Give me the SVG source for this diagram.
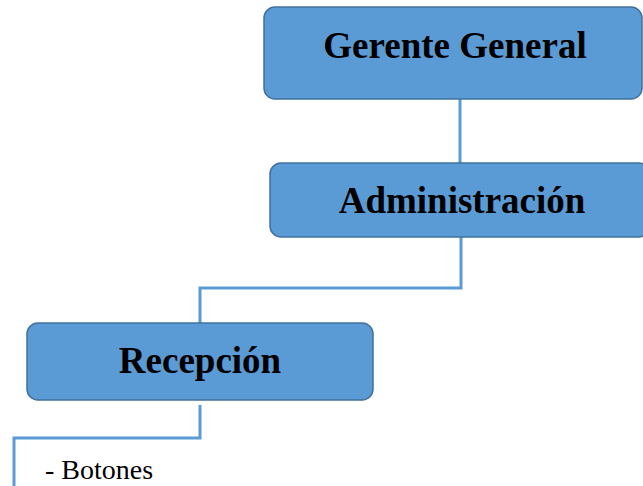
<svg xmlns="http://www.w3.org/2000/svg" width="643" height="486" viewBox="0 0 643 486">
  <style>
    .box { fill: #5B9BD5; stroke: #41719C; stroke-width: 1.5; }
    .title { font-family: "Liberation Serif", "Times New Roman", serif; font-weight: bold; font-size: 37px; fill: #000; text-anchor: middle; }
    .link { fill: none; stroke: #5B9BD5; stroke-width: 3; }
    .item { font-family: "Liberation Serif", "Times New Roman", serif; font-size: 28px; fill: #000; }
  </style>
  <rect width="643" height="486" fill="#fff"/>
  <g id="connectors">
    <path class="link" d="M460 99 V163"/>
    <path class="link" d="M461 237 V288 H200 V323"/>
    <path class="link" d="M200 405 V438 H14 V486"/>
  </g>
  <g id="gerente-general">
    <rect class="box" x="264" y="7" width="378" height="92" rx="11"/>
    <text class="title" x="455" y="58">Gerente General</text>
  </g>
  <g id="administracion">
    <rect class="box" x="270" y="163" width="380" height="74" rx="11"/>
    <text class="title" x="462" y="213">Administración</text>
  </g>
  <g id="recepcion">
    <rect class="box" x="27" y="323" width="346" height="77" rx="11"/>
    <text class="title" x="200" y="373">Recepción</text>
  </g>
  <g id="botones">
    <text class="item" x="45" y="479">- Botones</text>
  </g>
</svg>
